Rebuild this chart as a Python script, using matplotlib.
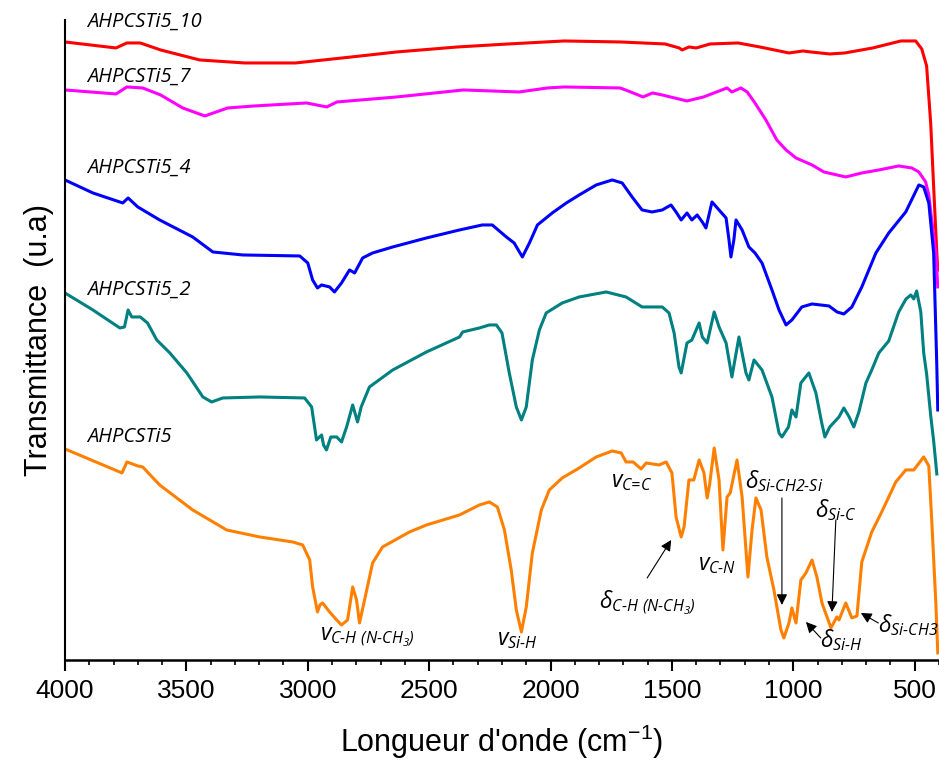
import matplotlib
matplotlib.use('Agg')
import matplotlib.pyplot as plt
from matplotlib.ticker import MultipleLocator, NullLocator

plt.rcParams['mathtext.fontset'] = 'custom'
plt.rcParams['mathtext.rm'] = 'Open Sans:italic'
plt.rcParams['mathtext.it'] = 'Open Sans:italic'
plt.rcParams['mathtext.fallback'] = 'stixsans'

# wavenumber (cm-1) and transmittance (a.u., offset stack)
wn_0 = [4000, 3765, 3745, 3700, 3680, 3610, 3474, 3334, 3198, 3062, 3021, 2992, 2980, 2960, 2950,
        2939, 2910, 2881, 2861, 2836, 2815, 2799, 2787, 2766, 2733, 2692, 2581, 2511, 2375, 2293,
        2252, 2219, 2190, 2162, 2141, 2120, 2100, 2075, 2038, 2005, 1952, 1882, 1812, 1746, 1709,
        1689, 1660, 1627, 1606, 1553, 1524, 1500, 1483, 1462, 1450, 1430, 1410, 1388, 1368, 1355,
        1345, 1326, 1306, 1290, 1273, 1260, 1232, 1211, 1187, 1170, 1154, 1133, 1109, 1080, 1051,
        1039, 1018, 1006, 989, 969, 948, 923, 903, 882, 845, 821, 812, 784, 759, 738, 718, 677,
        636, 578, 537, 504, 463, 442, 430, 413, 405]
t_0 = [211, 187, 198, 194, 193, 175, 150, 130, 123, 118, 115, 100, 73, 48, 55,
       57, 48, 40, 35, 40, 73, 60, 37, 60, 97, 113, 128, 135, 145, 155,
       158, 153, 130, 90, 50, 28, 53, 107, 150, 170, 182, 192, 203, 209, 207,
       198, 198, 191, 197, 195, 198, 187, 143, 123, 133, 180, 180, 200, 187, 162,
       175, 212, 180, 110, 163, 167, 200, 163, 83, 130, 162, 150, 103, 70, 30,
       22, 37, 52, 37, 80, 87, 100, 83, 57, 32, 43, 40, 57, 42, 44, 98, 128,
       148, 178, 190, 190, 203, 194, 140, 57, 7]

wn_2 = [4000, 3885, 3774, 3755, 3740, 3725, 3690, 3660, 3622, 3568, 3498, 3432, 3396, 3350, 3198,
        3013, 2984, 2964, 2943, 2935, 2923, 2905, 2881, 2861, 2840, 2815, 2795, 2780, 2746, 2650,
        2511, 2375, 2362, 2293, 2252, 2223, 2200, 2170, 2141, 2120, 2100, 2075, 2046, 2018, 1952,
        1882, 1771, 1689, 1623, 1540, 1512, 1491, 1471, 1462, 1438, 1418, 1388, 1375, 1355, 1326,
        1306, 1277, 1253, 1224, 1195, 1183, 1162, 1129, 1088, 1059, 1047, 1020, 1006, 989, 969,
        936, 907, 883, 870, 850, 812, 792, 770, 751, 730, 701, 677, 648, 607, 566, 536, 516, 504,
        492, 475, 463, 451, 434, 422, 409]
t_2 = [367, 350, 332, 333, 350, 343, 343, 337, 320, 307, 287, 263, 258, 262, 263,
       262, 253, 220, 225, 215, 210, 223, 223, 218, 233, 255, 238, 253, 273, 290,
       308, 323, 328, 332, 335, 335, 327, 287, 253, 240, 253, 300, 330, 347, 357,
       363, 368, 363, 353, 353, 347, 327, 293, 287, 317, 320, 337, 323, 317, 348,
       333, 317, 283, 323, 287, 280, 300, 290, 263, 227, 223, 233, 250, 243, 277,
       287, 267, 237, 223, 233, 243, 252, 243, 233, 248, 277, 290, 307, 319, 348, 361, 365, 361,
       369, 348, 307, 286, 244, 219, 186]

wn_4 = [4000, 3885, 3762, 3740, 3700, 3610, 3474, 3391, 3268, 3033, 3000, 2980, 2960, 2943, 2910,
        2890, 2861, 2828, 2807, 2774, 2733, 2650, 2511, 2375, 2281, 2240, 2182, 2150, 2116, 2087,
        2054, 1993, 1935, 1882, 1812, 1746, 1705, 1664, 1623, 1582, 1540, 1504, 1483, 1462, 1438,
        1418, 1396, 1375, 1360, 1335, 1306, 1277, 1265, 1257, 1245, 1236, 1211, 1183, 1158, 1129,
        1088, 1059, 1030, 1006, 965, 923, 853, 820, 792, 759, 718, 660, 607, 537, 483, 463, 442,
        422, 409, 405]
t_4 = [480, 467, 457, 462, 453, 440, 423, 408, 405, 404, 397, 380, 372, 375, 373,
       368, 377, 390, 387, 402, 407, 413, 422, 430, 435, 435, 423, 417, 403, 417,
       435, 447, 457, 465, 475, 480, 477, 463, 450, 448, 450, 455, 448, 440, 447,
       440, 445, 438, 432, 458, 450, 442, 420, 403, 420, 440, 430, 413, 407, 397,
       370, 350, 335, 340, 353, 356, 354, 348, 346, 353, 373, 407, 427, 448, 475, 473, 457,
       407, 294, 250]

wn_7 = [4000, 3790, 3745, 3680, 3606, 3515, 3424, 3330, 3220, 3005, 2922, 2880, 2634, 2359, 2129,
        2013, 1944, 1713, 1670, 1619, 1580, 1540, 1438, 1370, 1273, 1253, 1216, 1190, 1158, 1113,
        1068, 1030, 989, 923, 874, 784, 718, 648, 566, 512, 483, 455, 442, 430, 413, 405]
t_7 = [570, 566, 573, 572, 565, 552, 544, 552, 554, 557, 553, 558, 563, 570, 568,
       572, 573, 572, 568, 563, 567, 565, 559, 563, 572, 568, 572, 568, 557, 540,
       520, 510, 502, 495, 488, 483, 487, 490, 494, 492, 488, 478, 465, 440, 407, 373]

wn_10 = [4000, 3790, 3745, 3690, 3606, 3445, 3260, 3050, 2820, 2634, 2383, 2174, 1944, 1713, 1528,
         1470, 1458, 1430, 1400, 1343, 1228, 1138, 1018, 960, 928, 850, 788, 673, 557, 496,
         471, 451, 434, 422, 409, 405]
t_10 = [618, 612, 617, 617, 610, 600, 597, 597, 603, 608, 613, 616, 619, 618, 616,
        612, 610, 613, 612, 616, 617, 613, 607, 609, 608, 606, 607, 612, 619, 619,
        611, 594, 536, 473, 407, 390]

names = ['AHPCSTi5_10', 'AHPCSTi5_7', 'AHPCSTi5_4', 'AHPCSTi5_2', 'AHPCSTi5']
colors = ['#ff0000', '#ff00ff', '#0000ff', '#008080', '#ff8000']
label_y = [638, 583, 492, 370, 223]

fig = plt.figure(figsize=(9.39, 7.65), dpi=100)
ax = fig.add_axes([0.0692, 0.1373, 0.9308, 0.8366])

series = [(wn_10, t_10), (wn_7, t_7), (wn_4, t_4), (wn_2, t_2), (wn_0, t_0)]
for (w, t), c in zip(series, colors):
    ax.plot(w, t, color=c, lw=2.2, solid_joinstyle='round')

for name, y in zip(names, label_y):
    ax.text(3910, y, name, fontsize=14.5, family='Open Sans', style='italic',
            va='center', ha='left', clip_on=False)

ax.set_xlim(4000, 400)
ax.set_ylim(0, 640)
ax.xaxis.set_major_locator(MultipleLocator(500))
ax.xaxis.set_minor_locator(MultipleLocator(100))
ax.yaxis.set_major_locator(NullLocator())
ax.tick_params(axis='x', which='major', direction='out', length=8, width=1.5,
               labelsize=19, pad=6)
ax.tick_params(axis='x', which='minor', direction='out', length=3.5, width=1.2)
for lab in ax.get_xticklabels():
    lab.set_family('Liberation Sans')
ax.spines['top'].set_visible(False)
ax.spines['right'].set_visible(False)
ax.spines['left'].set_linewidth(1.5)
ax.spines['bottom'].set_linewidth(1.8)

ax.set_xlabel(r"Longueur d'onde (cm$^{\mathregular{-1}}$)", fontsize=22,
              family='Liberation Sans', labelpad=14)
ax.set_ylabel('Transmittance  (u.a)', fontsize=22, family='Liberation Sans', labelpad=8)

# band assignments
fs = 16.5
ax.text(2754, 23, r'$v_{\text{C-H}}$' + r'$_{\text{ (N-CH}_3\text{)}}$', fontsize=fs, ha='center', va='center')
ax.text(2137, 20, r'$v_{\text{Si-H}}$', fontsize=fs, ha='center', va='center')
ax.text(1668, 178, r'$v_{\text{C=C}}$', fontsize=fs, ha='center', va='center')
ax.text(1602, 57, r'$\delta_{\text{C-H}}$' + r'$_{\text{ (N-CH}_3\text{)}}$', fontsize=fs, ha='center', va='center')
ax.text(1314, 95, r'$v_{\text{C-N}}$', fontsize=fs, ha='center', va='center')
ax.text(1039, 179, r'$\delta_{\text{Si-CH2-Si}}$', fontsize=fs, ha='center', va='center')
ax.text(825, 150, r'$\delta_{\text{Si-C}}$', fontsize=fs, ha='center', va='center')
ax.text(804, 20, r'$\delta_{\text{Si-H}}$', fontsize=fs, ha='center', va='center')
ax.text(404, 35, r'$\delta_{\text{Si-CH3}}$', fontsize=fs, ha='right', va='center', clip_on=False)

arrow = dict(arrowstyle='-|>', color='k', lw=0.8, mutation_scale=16, shrinkA=0, shrinkB=0)
ax.annotate('', xy=(1503, 120), xytext=(1602, 82), arrowprops=arrow)
ax.annotate('', xy=(1047, 55), xytext=(1047, 162), arrowprops=arrow)
ax.annotate('', xy=(841, 48), xytext=(825, 140), arrowprops=arrow)
ax.annotate('', xy=(948, 38), xytext=(887, 22), arrowprops=arrow)
ax.annotate('', xy=(722, 47), xytext=(650, 37), arrowprops=arrow)

fig.savefig('out.png', dpi=100)
